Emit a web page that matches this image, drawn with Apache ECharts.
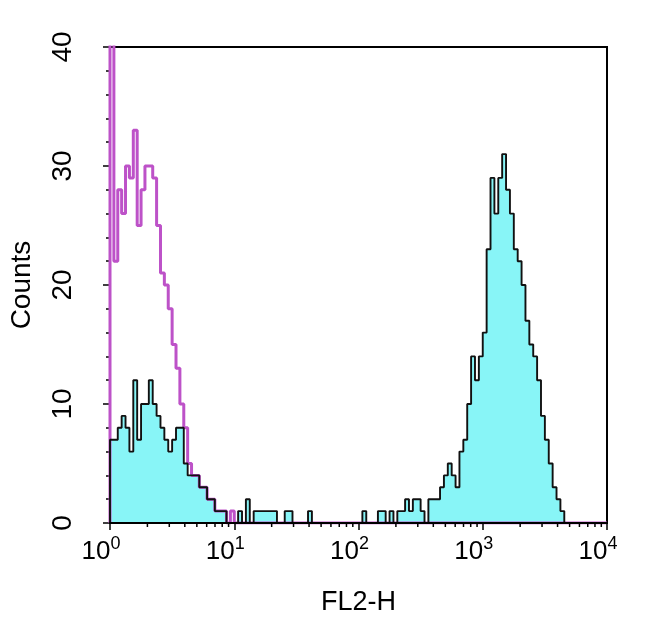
<!DOCTYPE html>
<html>
<head>
<meta charset="utf-8">
<script src="https://cdn.jsdelivr.net/npm/echarts@6/dist/echarts.min.js"></script>
<style>html,body{margin:0;padding:0;background:#fff}#c{width:650px;height:628px}</style>
</head>
<body>
<div id="c"></div>
<script>
// histogram: 128 channels over 4 decades (32 channels per decade)
const channelsPerDecade = 32;
const sampleCounts = [
  7,7,8,9,8,6,12,7,10,10,12,10,9,8,7,6,7,8,8,5,4,4,4,3,3,2,2,1,1,1,0,0,
  0,1,0,2,0,1,1,1,1,1,1,0,0,1,1,0,0,0,0,1,0,0,0,0,0,0,0,0,0,0,0,0,
  0,1,0,0,0,1,1,0,1,0,1,1,2,1,2,2,1,0,2,2,2,3,4,5,4,3,6,7,10,14,12,14,
  16,23,29,26,29,31,28,26,23,22,20,17,15,14,12,9,7,5,3,2,1,0,0,0,0,0,0,0,0,0,0,0
];
const isotypeCounts = [
  45,22,28,26,30,29,33,25,28,30,30,29,25,21,20,18,15,13,10,8,5,4,4,3,3,2,2,1,1,1,0,1,
  0,0,0,0,0,0,0,0,0,0,0,0,0,0,0,0,0,0,0,0,0,0,0,0,0,0,0,0,0,0,0,0,
  0,0,0,0,0,0,0,0,0,0,0,0,0,0,0,0,0,0,0,0,0,0,0,0,0,0,0,0,0,0,0,0,
  0,0,0,0,0,0,0,0,0,0,0,0,0,0,0,0,0,0,0,0,0,0,0,0,0,0,0,0,0,0,0,0
];
const xMinorTickValues = [2,3,4,5,6,7,8,9,20,30,40,50,60,70,80,90,
  200,300,400,500,600,700,800,900,2000,3000,4000,5000,6000,7000,8000,9000];
const yTicks = [0,10,20,30,40];
const xAxisName = 'FL2-H';
const yAxisName = 'Counts';

function toPoints(counts){
  // channel i spans [10^(i/cpd), 10^((i+1)/cpd)); step 'start' uses right edges
  const pts = [[1, 0]];
  counts.forEach((c, i) => pts.push([Math.pow(10, (i + 1) / channelsPerDecade), c]));
  return pts;
}
const samplePts = toPoints(sampleCounts);
const isotypePts = toPoints(isotypeCounts);

const FONT = "'Liberation Sans', Arial, Helvetica, sans-serif";
const chart = echarts.init(document.getElementById('c'), null, {renderer: 'canvas'});
chart.setOption({
  animation: false,
  backgroundColor: '#fff',
  grid: {left: 107, right: 43, top: 47, bottom: 105, show: true,
         borderColor: '#000', borderWidth: 2, backgroundColor: 'transparent'},
  xAxis: {
    type: 'log', logBase: 10, min: 1, max: 10000, z: 5,
    name: xAxisName, nameLocation: 'middle', nameGap: 66,
    nameTextStyle: {fontFamily: FONT, fontSize: 27, color: '#000'},
    axisLine: {show: true, lineStyle: {color: '#000', width: 2}},
    axisTick: {show: true, length: 7, lineStyle: {color: '#000', width: 1.5}},
    splitLine: {show: false},
    axisLabel: {
      margin: 12, color: '#000',
      formatter: v => '{b|10}{s|' + Math.round(Math.log10(v)) + '}',
      rich: {
        b: {fontFamily: FONT, fontSize: 26, color: '#000', lineHeight: 30, verticalAlign: 'bottom'},
        s: {fontFamily: FONT, fontSize: 18, color: '#000', lineHeight: 30, verticalAlign: 'top', padding: [0, 18, 0, 0]}
      }
    }
  },
  yAxis: {
    type: 'value', min: yTicks[0], max: yTicks[yTicks.length - 1], interval: 10, z: 0,
    name: yAxisName, nameLocation: 'middle', nameGap: 74, nameRotate: 90,
    nameTextStyle: {fontFamily: FONT, fontSize: 28, color: '#000'},
    axisLine: {show: true, lineStyle: {color: '#000', width: 2}},
    axisTick: {show: true, length: 7, lineStyle: {color: '#000', width: 1.5}},
    minorTick: {show: true, splitNumber: 5, length: 4, lineStyle: {color: '#000', width: 1.5}},
    splitLine: {show: false},
    axisLabel: {rotate: 90, margin: 33, fontFamily: FONT, fontSize: 28, color: '#000'}
  },
  series: [
    {
      type: 'line', data: samplePts, step: 'start', showSymbol: false, z: 1,
      lineStyle: {width: 0}, areaStyle: {color: '#88f5f7', opacity: 1}
    },
    {
      type: 'line', data: isotypePts, step: 'start', showSymbol: false, z: 2,
      lineStyle: {color: '#bd52c8', width: 3}
    },
    {
      type: 'line', data: samplePts, step: 'start', showSymbol: false, z: 3,
      lineStyle: {color: '#111', width: 1.9}
    },
    {
      type: 'custom', data: xMinorTickValues.map(v => [v, 0]), clip: false, z: 6, silent: true,
      renderItem: (params, api) => {
        const p = api.coord([api.value(0), 0]);
        return {type: 'line', shape: {x1: p[0], y1: p[1], x2: p[0], y2: p[1] + 4},
                style: {stroke: '#000', lineWidth: 1.5}};
      }
    }
  ]
});
</script>
</body>
</html>
